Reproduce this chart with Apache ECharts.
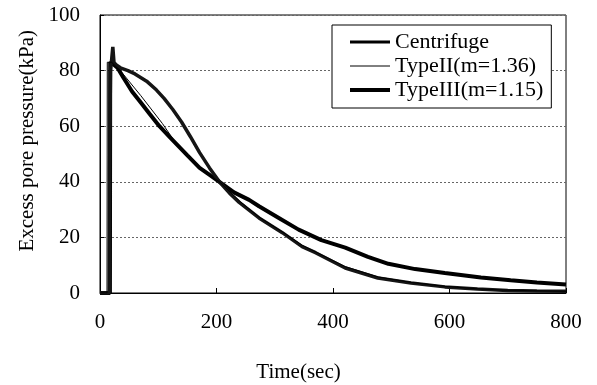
<!DOCTYPE html>
<html>
<head>
<meta charset="utf-8">
<script src="https://cdn.jsdelivr.net/npm/echarts@6/dist/echarts.min.js"></script>
<style>html,body{margin:0;padding:0;background:#fff;}#c{width:597px;height:385px;}</style>
</head>
<body>
<div id="c"></div>
<script>
var xTicks = [0, 200, 400, 600, 800];
var yTicks = [0, 20, 40, 60, 80, 100];
var seriesNames = ['Centrifuge', 'TypeII(m=1.36)', 'TypeIII(m=1.15)'];

var centTime = [0, 16, 16.5, 18, 20, 22, 24, 28, 35, 48, 60, 80, 97, 110, 125, 140, 155, 171, 188, 205, 222, 239, 273, 313, 347, 370, 421, 477, 534, 592, 648, 700, 750, 800];
var centVal  = [0, 0, 45, 80, 84, 88.5, 83, 82, 81, 80, 78.8, 76.2, 73, 70, 66, 61.5, 56.3, 50.5, 45, 40, 36, 32.6, 27, 21.7, 16.7, 14.5, 9, 5.4, 3.6, 2.2, 1.4, 0.9, 0.7, 0.6];

var type2Time = [0, 12, 12.5, 20, 36, 70, 107, 125, 150, 171, 205, 240, 273, 313, 347, 421, 477, 534, 592, 648, 700, 800];
var type2Val  = [0, 0, 83, 83, 79.7, 71, 61, 55.5, 49.3, 44.8, 40, 33, 27.3, 22, 17.2, 9.5, 5.8, 3.8, 2.4, 1.5, 1.0, 0.6];

var type3Time = [0, 17, 17.5, 22, 30, 40, 55, 70, 85, 102, 121, 150, 171, 190, 205, 230, 256, 273, 307, 341, 380, 421, 460, 495, 541, 592, 654, 705, 750, 800];
var type3Val  = [0, 0, 83, 82.5, 81, 77.5, 72.5, 68.5, 64.5, 60, 55.8, 49.5, 45, 42.2, 40, 36.2, 33.5, 31.2, 27, 22.8, 19, 16.3, 13, 10.5, 8.6, 7.2, 5.6, 4.6, 3.8, 3.1];

function zip(a, b) { return a.map(function (v, i) { return [v, b[i]]; }); }

var FONT = 'Liberation Serif';
var widths = [3, 1, 4];
var chart = echarts.init(document.getElementById('c'), null, {renderer: 'canvas'});
chart.setOption({
  backgroundColor: '#fff',
  animation: false,
  grid: {left: 100, right: 31, top: 15, bottom: 92, show: true, borderColor: '#000', borderWidth: 1, backgroundColor: 'transparent'},
  xAxis: {
    type: 'value', min: xTicks[0], max: xTicks[xTicks.length - 1], interval: 200,
    axisLine: {lineStyle: {color: '#000', width: 1}},
    axisTick: {inside: true, length: 5, lineStyle: {color: '#000'}},
    axisLabel: {margin: 19, fontFamily: FONT, fontSize: 21, color: '#000'},
    splitLine: {show: false}
  },
  yAxis: {
    type: 'value', min: yTicks[0], max: yTicks[yTicks.length - 1], interval: 20,
    axisLine: {show: true, lineStyle: {color: '#000', width: 1}},
    axisTick: {show: true, inside: true, length: 4, lineStyle: {color: '#000'}},
    axisLabel: {margin: 20, fontFamily: FONT, fontSize: 21, color: '#000'},
    splitLine: {show: true, lineStyle: {color: '#666', type: [2, 2], width: 1}}
  },
  legend: {
    orient: 'vertical', left: 332, top: 25,
    padding: [6, 8, 7, 16], itemGap: 2, itemWidth: 40, itemHeight: 2,
    borderColor: '#000', borderWidth: 1, backgroundColor: '#fff',
    itemStyle: {opacity: 0},
    textStyle: {fontFamily: FONT, fontSize: 22, color: '#000'},
    data: seriesNames.map(function (n, i) { return {name: n, lineStyle: {width: widths[i], color: '#000'}}; })
  },
  graphic: [
    {type: 'text', left: 17, top: 30, style: {text: 'Excess pore pressure(kPa)', font: '21px "Liberation Serif"', fill: '#000'}, rotation: Math.PI / 2, originX: 0, originY: 0, x: 0, y: 0},
    {type: 'text', left: 'center', top: 362, style: {text: 'Time(sec)', font: '21px "Liberation Serif"', fill: '#000'}}
  ],
  series: [
    {name: seriesNames[0], type: 'line', symbol: 'none', data: zip(centTime, centVal), lineStyle: {color: '#151515', width: 3.5}, itemStyle: {color: '#151515'}, z: 3},
    {name: seriesNames[1], type: 'line', symbol: 'none', data: zip(type2Time, type2Val), lineStyle: {color: '#000', width: 1}, itemStyle: {color: '#000'}, z: 4},
    {name: seriesNames[2], type: 'line', symbol: 'none', data: zip(type3Time, type3Val), lineStyle: {color: '#000', width: 4}, itemStyle: {color: '#000'}, z: 2}
  ]
});
</script>
</body>
</html>
